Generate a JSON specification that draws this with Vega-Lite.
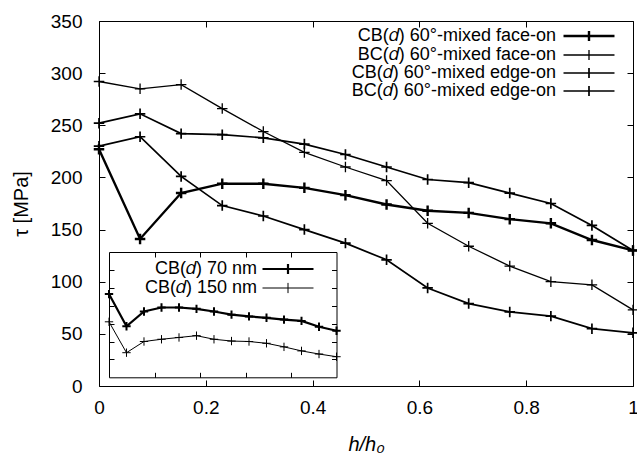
{
  "$schema": "https://vega.github.io/schema/vega-lite/v6.json",
  "width": 534,
  "height": 365,
  "autosize": {"type": "none"},
  "padding": {"left": 99, "top": 21, "right": 4, "bottom": 69},
  "background": "white",
  "datasets": {
    "shear": [
      {"h": 0, "tau": 227, "series": "CB(𝑑) 60°-mixed face-on"},
      {"h": 0.0769, "tau": 141, "series": "CB(𝑑) 60°-mixed face-on"},
      {"h": 0.1538, "tau": 185, "series": "CB(𝑑) 60°-mixed face-on"},
      {"h": 0.2308, "tau": 194, "series": "CB(𝑑) 60°-mixed face-on"},
      {"h": 0.3077, "tau": 194, "series": "CB(𝑑) 60°-mixed face-on"},
      {"h": 0.3846, "tau": 190, "series": "CB(𝑑) 60°-mixed face-on"},
      {"h": 0.4615, "tau": 183, "series": "CB(𝑑) 60°-mixed face-on"},
      {"h": 0.5385, "tau": 174, "series": "CB(𝑑) 60°-mixed face-on"},
      {"h": 0.6154, "tau": 168, "series": "CB(𝑑) 60°-mixed face-on"},
      {"h": 0.6923, "tau": 166, "series": "CB(𝑑) 60°-mixed face-on"},
      {"h": 0.7692, "tau": 160, "series": "CB(𝑑) 60°-mixed face-on"},
      {"h": 0.8462, "tau": 156, "series": "CB(𝑑) 60°-mixed face-on"},
      {"h": 0.9231, "tau": 140, "series": "CB(𝑑) 60°-mixed face-on"},
      {"h": 1, "tau": 130, "series": "CB(𝑑) 60°-mixed face-on"},
      {"h": 0, "tau": 292, "series": "BC(𝑑) 60°-mixed face-on"},
      {"h": 0.0769, "tau": 285, "series": "BC(𝑑) 60°-mixed face-on"},
      {"h": 0.1538, "tau": 289, "series": "BC(𝑑) 60°-mixed face-on"},
      {"h": 0.2308, "tau": 266, "series": "BC(𝑑) 60°-mixed face-on"},
      {"h": 0.3077, "tau": 244, "series": "BC(𝑑) 60°-mixed face-on"},
      {"h": 0.3846, "tau": 224, "series": "BC(𝑑) 60°-mixed face-on"},
      {"h": 0.4615, "tau": 210, "series": "BC(𝑑) 60°-mixed face-on"},
      {"h": 0.5385, "tau": 197, "series": "BC(𝑑) 60°-mixed face-on"},
      {"h": 0.6154, "tau": 156, "series": "BC(𝑑) 60°-mixed face-on"},
      {"h": 0.6923, "tau": 134, "series": "BC(𝑑) 60°-mixed face-on"},
      {"h": 0.7692, "tau": 115, "series": "BC(𝑑) 60°-mixed face-on"},
      {"h": 0.8462, "tau": 100, "series": "BC(𝑑) 60°-mixed face-on"},
      {"h": 0.9231, "tau": 97, "series": "BC(𝑑) 60°-mixed face-on"},
      {"h": 1, "tau": 73, "series": "BC(𝑑) 60°-mixed face-on"},
      {"h": 0, "tau": 252, "series": "CB(𝑑) 60°-mixed edge-on"},
      {"h": 0.0769, "tau": 261, "series": "CB(𝑑) 60°-mixed edge-on"},
      {"h": 0.1538, "tau": 242, "series": "CB(𝑑) 60°-mixed edge-on"},
      {"h": 0.2308, "tau": 241, "series": "CB(𝑑) 60°-mixed edge-on"},
      {"h": 0.3077, "tau": 238, "series": "CB(𝑑) 60°-mixed edge-on"},
      {"h": 0.3846, "tau": 232, "series": "CB(𝑑) 60°-mixed edge-on"},
      {"h": 0.4615, "tau": 222, "series": "CB(𝑑) 60°-mixed edge-on"},
      {"h": 0.5385, "tau": 210, "series": "CB(𝑑) 60°-mixed edge-on"},
      {"h": 0.6154, "tau": 198, "series": "CB(𝑑) 60°-mixed edge-on"},
      {"h": 0.6923, "tau": 195, "series": "CB(𝑑) 60°-mixed edge-on"},
      {"h": 0.7692, "tau": 185, "series": "CB(𝑑) 60°-mixed edge-on"},
      {"h": 0.8462, "tau": 175, "series": "CB(𝑑) 60°-mixed edge-on"},
      {"h": 0.9231, "tau": 154, "series": "CB(𝑑) 60°-mixed edge-on"},
      {"h": 1, "tau": 130, "series": "CB(𝑑) 60°-mixed edge-on"},
      {"h": 0, "tau": 230, "series": "BC(𝑑) 60°-mixed edge-on"},
      {"h": 0.0769, "tau": 239, "series": "BC(𝑑) 60°-mixed edge-on"},
      {"h": 0.1538, "tau": 201, "series": "BC(𝑑) 60°-mixed edge-on"},
      {"h": 0.2308, "tau": 173, "series": "BC(𝑑) 60°-mixed edge-on"},
      {"h": 0.3077, "tau": 163, "series": "BC(𝑑) 60°-mixed edge-on"},
      {"h": 0.3846, "tau": 150, "series": "BC(𝑑) 60°-mixed edge-on"},
      {"h": 0.4615, "tau": 137, "series": "BC(𝑑) 60°-mixed edge-on"},
      {"h": 0.5385, "tau": 121, "series": "BC(𝑑) 60°-mixed edge-on"},
      {"h": 0.6154, "tau": 94, "series": "BC(𝑑) 60°-mixed edge-on"},
      {"h": 0.6923, "tau": 79, "series": "BC(𝑑) 60°-mixed edge-on"},
      {"h": 0.7692, "tau": 71, "series": "BC(𝑑) 60°-mixed edge-on"},
      {"h": 0.8462, "tau": 67, "series": "BC(𝑑) 60°-mixed edge-on"},
      {"h": 0.9231, "tau": 55, "series": "BC(𝑑) 60°-mixed edge-on"},
      {"h": 1, "tau": 51, "series": "BC(𝑑) 60°-mixed edge-on"}
    ],
    "thickness": [
      {"h": 0, "tau": 93, "series": "CB(𝑑) 70 nm"},
      {"h": 0.0769, "tau": 57, "series": "CB(𝑑) 70 nm"},
      {"h": 0.1538, "tau": 73.5, "series": "CB(𝑑) 70 nm"},
      {"h": 0.2308, "tau": 78, "series": "CB(𝑑) 70 nm"},
      {"h": 0.3077, "tau": 78, "series": "CB(𝑑) 70 nm"},
      {"h": 0.3846, "tau": 76.5, "series": "CB(𝑑) 70 nm"},
      {"h": 0.4615, "tau": 73.5, "series": "CB(𝑑) 70 nm"},
      {"h": 0.5385, "tau": 70, "series": "CB(𝑑) 70 nm"},
      {"h": 0.6154, "tau": 68, "series": "CB(𝑑) 70 nm"},
      {"h": 0.6923, "tau": 66.5, "series": "CB(𝑑) 70 nm"},
      {"h": 0.7692, "tau": 64.5, "series": "CB(𝑑) 70 nm"},
      {"h": 0.8462, "tau": 63, "series": "CB(𝑑) 70 nm"},
      {"h": 0.9231, "tau": 56.5, "series": "CB(𝑑) 70 nm"},
      {"h": 1, "tau": 52, "series": "CB(𝑑) 70 nm"},
      {"h": 0, "tau": 62, "series": "CB(𝑑) 150 nm"},
      {"h": 0.0769, "tau": 27.5, "series": "CB(𝑑) 150 nm"},
      {"h": 0.1538, "tau": 40, "series": "CB(𝑑) 150 nm"},
      {"h": 0.2308, "tau": 42.5, "series": "CB(𝑑) 150 nm"},
      {"h": 0.3077, "tau": 44.5, "series": "CB(𝑑) 150 nm"},
      {"h": 0.3846, "tau": 46.5, "series": "CB(𝑑) 150 nm"},
      {"h": 0.4615, "tau": 42.5, "series": "CB(𝑑) 150 nm"},
      {"h": 0.5385, "tau": 40.5, "series": "CB(𝑑) 150 nm"},
      {"h": 0.6154, "tau": 40, "series": "CB(𝑑) 150 nm"},
      {"h": 0.6923, "tau": 38, "series": "CB(𝑑) 150 nm"},
      {"h": 0.7692, "tau": 34, "series": "CB(𝑑) 150 nm"},
      {"h": 0.8462, "tau": 29.5, "series": "CB(𝑑) 150 nm"},
      {"h": 0.9231, "tau": 26, "series": "CB(𝑑) 150 nm"},
      {"h": 1, "tau": 23, "series": "CB(𝑑) 150 nm"}
    ]
  },
  "layer": [
    {
      "data": {"name": "shear"},
      "mark": {"type": "line", "color": "black", "strokeJoin": "miter"},
      "encoding": {
        "x": {
          "field": "h", "type": "quantitative",
          "scale": {"domain": [0, 1], "nice": false, "zero": false},
          "axis": {"orient": "bottom", "values": [0, 0.2, 0.4, 0.6, 0.8, 1], "labelExpr": "'' + datum.value", "labelFlush": false,
                   "tickSize": -6, "labelPadding": 18, "title": "h/h₀", "titleFontStyle": "italic", "titlePadding": 17}
        },
        "y": {
          "field": "tau", "type": "quantitative",
          "scale": {"domain": [0, 350], "nice": false},
          "axis": {"orient": "left", "values": [0, 50, 100, 150, 200, 250, 300, 350], "labelExpr": "'' + datum.value",
                   "tickSize": -6, "labelPadding": 23, "title": "τ [MPa]", "titlePadding": 19}
        },
        "strokeWidth": {
          "field": "series", "type": "nominal",
          "scale": {
            "type": "ordinal",
            "domain": ["CB(𝑑) 60°-mixed face-on", "BC(𝑑) 60°-mixed face-on", "CB(𝑑) 60°-mixed edge-on", "BC(𝑑) 60°-mixed edge-on"],
            "range": [2.4, 1.3, 1.7, 1.7]
          },
          "legend": {
            "orient": "none", "legendX": 481, "legendY": 6, "title": null, "padding": 0,
            "symbolType": "M-5,0H5M0,-1V1", "symbolSize": 104, "symbolStrokeColor": "black", "symbolFillColor": "transparent",
            "labelAlign": "right", "labelOffset": -42, "labelFontSize": 18, "labelFont": "Liberation Sans", "labelColor": "black",
            "labelLimit": 0, "rowPadding": -1
          }
        }
      }
    },
    {
      "data": {"name": "shear"},
      "mark": {"type": "point", "shape": "M-1,0H1M0,-1V1", "filled": false, "size": 110, "color": "black", "opacity": 1},
      "encoding": {
        "x": {
          "field": "h", "type": "quantitative",
          "scale": {"domain": [0, 1], "nice": false, "zero": false},
          "axis": {"orient": "top", "values": [0, 0.2, 0.4, 0.6, 0.8, 1], "labels": false, "tickSize": -6, "title": null}
        },
        "y": {
          "field": "tau", "type": "quantitative",
          "scale": {"domain": [0, 350], "nice": false},
          "axis": {"orient": "right", "values": [0, 50, 100, 150, 200, 250, 300, 350], "labels": false, "tickSize": -6, "title": null}
        },
        "strokeWidth": {
          "field": "series", "type": "nominal",
          "scale": {
            "type": "ordinal",
            "domain": ["CB(𝑑) 60°-mixed face-on", "BC(𝑑) 60°-mixed face-on", "CB(𝑑) 60°-mixed edge-on", "BC(𝑑) 60°-mixed edge-on"],
            "range": [2.4, 1.3, 1.7, 1.7]
          },
          "legend": null
        }
      }
    },
    {
      "data": {"name": "thickness"},
      "mark": {"type": "line", "color": "black", "strokeJoin": "miter"},
      "encoding": {
        "x": {
          "field": "h", "type": "quantitative",
          "scale": {"domain": [0, 1], "nice": false, "zero": false, "range": [10, 237.5]},
          "axis": {"orient": "bottom", "offset": -8.7, "values": [0.2, 0.4, 0.6, 0.8], "labels": false, "tickSize": -5, "title": null}
        },
        "y": {
          "field": "tau", "type": "quantitative",
          "scale": {"domain": [0, 140], "nice": false, "range": [356.3, 231]},
          "axis": {"orient": "left", "offset": -10, "values": [20, 40, 60, 80, 100, 120], "labels": false, "tickSize": -5, "title": null}
        },
        "strokeWidth": {
          "field": "series", "type": "nominal",
          "scale": {"type": "ordinal", "domain": ["CB(𝑑) 70 nm", "CB(𝑑) 150 nm"], "range": [2.2, 1]},
          "legend": {
            "orient": "none", "legendX": 180, "legendY": 239, "title": null, "padding": 0,
            "symbolType": "M-5,0H5M0,-1V1", "symbolSize": 104, "symbolStrokeColor": "black", "symbolFillColor": "transparent",
            "labelAlign": "right", "labelOffset": -40, "labelFontSize": 18, "labelFont": "Liberation Sans", "labelColor": "black",
            "labelLimit": 0, "rowPadding": -3.5
          }
        }
      }
    },
    {
      "data": {"name": "thickness"},
      "mark": {"type": "point", "shape": "M-1,0H1M0,-1V1", "filled": false, "size": 70, "color": "black", "opacity": 1},
      "encoding": {
        "x": {
          "field": "h", "type": "quantitative",
          "scale": {"domain": [0, 1], "nice": false, "zero": false, "range": [10, 237.5]},
          "axis": {"orient": "top", "offset": -231, "values": [0.2, 0.4, 0.6, 0.8], "labels": false, "tickSize": -5, "title": null}
        },
        "y": {
          "field": "tau", "type": "quantitative",
          "scale": {"domain": [0, 140], "nice": false, "range": [356.3, 231]},
          "axis": {"orient": "right", "offset": -296.5, "values": [20, 40, 60, 80, 100, 120], "labels": false, "tickSize": -5, "title": null}
        },
        "strokeWidth": {
          "field": "series", "type": "nominal",
          "scale": {"type": "ordinal", "domain": ["CB(𝑑) 70 nm", "CB(𝑑) 150 nm"], "range": [2, 1]},
          "legend": null
        }
      }
    }
  ],
  "resolve": {
    "scale": {"x": "independent", "y": "independent", "strokeWidth": "independent"},
    "legend": {"strokeWidth": "independent"}
  },
  "config": {
    "view": {"stroke": null},
    "font": "Liberation Sans",
    "axis": {
      "grid": false,
      "domainColor": "black",
      "domainWidth": 1,
      "tickColor": "black",
      "tickWidth": 1,
      "labelColor": "black",
      "labelFont": "Liberation Sans",
      "labelFontSize": 19,
      "titleColor": "black",
      "titleFont": "Liberation Sans",
      "titleFontSize": 20,
      "titleFontWeight": "normal"
    }
  }
}
